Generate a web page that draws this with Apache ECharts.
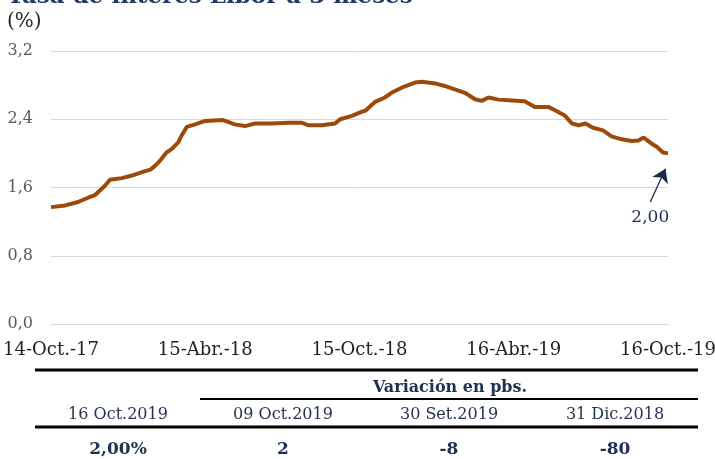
<!DOCTYPE html>
<html>
<head>
<meta charset="utf-8">
<script src="https://cdn.jsdelivr.net/npm/echarts@6/dist/echarts.min.js"></script>
<style>
  body { margin: 0; background: #fff; }
  #chart { width: 715px; height: 459px; }
</style>
</head>
<body>
<div id="chart"></div>
<script>
// days since 14-Oct-2017 and Libor 3M rate (%)
var days = [0, 17, 32, 44, 52, 58, 64, 70, 84, 96, 108, 118, 123, 129, 137, 143, 151, 155, 161, 171,
  183, 204, 210, 218, 230, 242, 262, 282, 297, 305, 321, 337, 343, 357, 369, 373, 384, 396, 404, 416,
  432, 440, 456, 467, 479, 491, 503, 511, 519, 531, 547, 562, 574, 590, 598, 610, 618, 626, 634, 643,
  655, 665, 677, 689, 697, 703, 711, 719, 726, 732];
var rates = [1.37, 1.39, 1.43, 1.48, 1.51, 1.565, 1.62, 1.69, 1.71, 1.74, 1.78, 1.81, 1.85, 1.91, 2.01, 2.05, 2.13, 2.21, 2.31, 2.34,
  2.38, 2.39, 2.37, 2.34, 2.32, 2.35, 2.35, 2.36, 2.36, 2.33, 2.33, 2.35, 2.40, 2.44, 2.49, 2.50, 2.60, 2.655, 2.71, 2.77,
  2.83, 2.84, 2.82, 2.79, 2.75, 2.71, 2.635, 2.615, 2.655, 2.63, 2.62, 2.61, 2.545, 2.545, 2.505, 2.44, 2.35, 2.33, 2.35, 2.30,
  2.27, 2.20, 2.165, 2.145, 2.15, 2.185, 2.125, 2.075, 2.01, 2.00];
var xLabels = ['14-Oct.-17', '15-Abr.-18', '15-Oct.-18', '16-Abr.-19', '16-Oct.-19'];
var xStep = 183;

var lastLabel = '2,00';
var arrowFrom = [711, 1.43];
var arrowTo = [729, 1.82];
var lastLabelAt = [711, 1.25];

var tableTitle = 'Variación en pbs.';
var tableHeaders = ['16 Oct.2019', '09 Oct.2019', '30 Set.2019', '31 Dic.2018'];
var tableValues = ['2,00%', '2', '-8', '-80'];

var serif = '"DejaVu Serif", serif';
var navy = '#1f3050';
var colX = [118, 283, 449, 615];

var graphics = [
  {type: 'text', x: 7, y: 9, style: {text: 'Tasa de interés Libor a 3 meses', font: 'bold 23px ' + serif, fill: '#1f3864', verticalAlign: 'bottom'}},
  {type: 'text', x: 7, y: 12, style: {text: '(%)', font: '20px ' + serif, fill: '#262626'}},
  {type: 'line', shape: {x1: 35, y1: 370, x2: 698, y2: 370}, style: {stroke: '#000', lineWidth: 3}},
  {type: 'text', x: 450, y: 388, style: {text: tableTitle, font: 'bold 16px ' + serif, fill: navy, align: 'center', verticalAlign: 'middle'}},
  {type: 'line', shape: {x1: 200, y1: 399, x2: 698, y2: 399}, style: {stroke: '#000', lineWidth: 2}},
  {type: 'line', shape: {x1: 35, y1: 427, x2: 698, y2: 427}, style: {stroke: '#000', lineWidth: 3}}
];
tableHeaders.forEach(function (h, i) {
  graphics.push({type: 'text', x: colX[i], y: 415, style: {text: h, font: '16px ' + serif, fill: '#263452', align: 'center', verticalAlign: 'middle'}});
});
tableValues.forEach(function (v, i) {
  graphics.push({type: 'text', x: colX[i], y: 450, style: {text: v, font: 'bold 17px ' + serif, fill: navy, align: 'center', verticalAlign: 'middle'}});
});

var myChart = echarts.init(document.getElementById('chart'));
myChart.setOption({
  animation: false,
  grid: {left: 51, right: 47, top: 51, bottom: 135, outerBoundsMode: 'none'},
  xAxis: {
    type: 'value',
    min: 0,
    max: xStep * 4,
    interval: xStep,
    axisLine: {show: true, lineStyle: {color: '#d9d9d9', width: 1}},
    axisTick: {show: false},
    splitLine: {show: false},
    axisLabel: {
      margin: 17,
      fontSize: 18,
      fontFamily: serif,
      color: '#222',
      formatter: function (v) { return xLabels[Math.round(v / xStep)]; }
    }
  },
  yAxis: {
    type: 'value',
    min: 0,
    max: 3.2,
    interval: 0.8,
    axisLine: {show: false},
    axisTick: {show: false},
    splitLine: {lineStyle: {color: '#d9d9d9', width: 1}},
    axisLabel: {
      margin: 18,
      fontSize: 16,
      fontFamily: serif,
      color: '#595959',
      formatter: function (v) { return v.toFixed(1).replace('.', ','); }
    }
  },
  series: [{
    type: 'line',
    data: days.map(function (d, i) { return [d, rates[i]]; }),
    showSymbol: false,
    lineStyle: {color: '#9c4a0c', width: 4},
    itemStyle: {color: '#9c4a0c'},
    markLine: {
      silent: true,
      symbol: ['none', 'arrow'],
      symbolSize: 13,
      label: {show: false},
      lineStyle: {color: '#1b2a47', width: 1.3, type: 'solid'},
      data: [[{coord: arrowFrom}, {coord: arrowTo}]]
    },
    markPoint: {
      silent: true,
      symbol: 'circle',
      symbolSize: 0,
      label: {show: true, formatter: lastLabel, fontSize: 17, fontFamily: serif, color: navy, position: 'inside'},
      data: [{coord: lastLabelAt}]
    }
  }],
  graphic: graphics
});
</script>
</body>
</html>
